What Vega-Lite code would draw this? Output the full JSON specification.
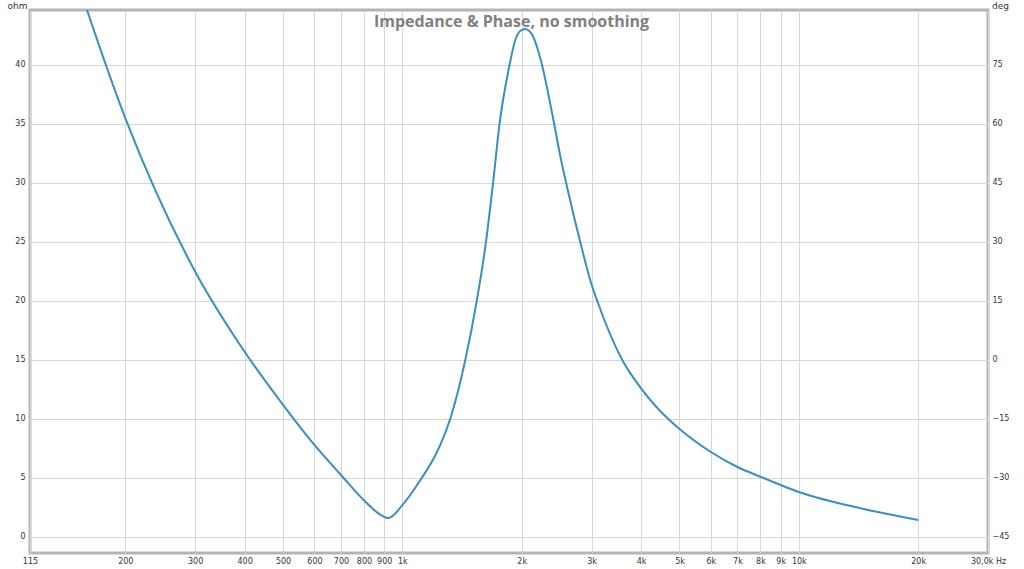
{
  "$schema": "https://vega.github.io/schema/vega-lite/v6.json",
  "autosize": {"type": "none"},
  "padding": {"left": 30, "top": 10, "right": 36, "bottom": 16},
  "width": 958,
  "height": 543,
  "background": "white",
  "config": {
    "view": {"stroke": "#b4b4b4", "strokeWidth": 3},
    "axis": {"labelFont": "DejaVu Sans", "labelFontSize": 8, "labelColor": "#333333", "titleFont": "DejaVu Sans", "titleFontSize": 9, "titleFontWeight": "normal", "titleColor": "#333333", "domain": false, "ticks": false, "gridColor": "#d6d6d6", "gridWidth": 1}
  },
  "layer": [
    {
      "data": {"values": [
        {"f": 150, "ohm": 47.5},
        {"f": 200, "ohm": 35.5},
        {"f": 300, "ohm": 22.5},
        {"f": 400, "ohm": 15.7},
        {"f": 500, "ohm": 11.2},
        {"f": 600, "ohm": 7.8},
        {"f": 700, "ohm": 5.25},
        {"f": 800, "ohm": 3.1},
        {"f": 879, "ohm": 1.9},
        {"f": 921, "ohm": 1.6},
        {"f": 1000, "ohm": 2.7},
        {"f": 1109, "ohm": 4.8},
        {"f": 1210, "ohm": 6.9},
        {"f": 1246, "ohm": 7.8},
        {"f": 1320, "ohm": 10.0},
        {"f": 1441, "ohm": 15.0},
        {"f": 1540, "ohm": 20.0},
        {"f": 1625, "ohm": 25.0},
        {"f": 1693, "ohm": 30.0},
        {"f": 1758, "ohm": 35.0},
        {"f": 1863, "ohm": 40.0},
        {"f": 1926, "ohm": 42.1},
        {"f": 1985, "ohm": 42.9},
        {"f": 2041, "ohm": 43.05},
        {"f": 2130, "ohm": 42.5},
        {"f": 2227, "ohm": 40.6},
        {"f": 2402, "ohm": 35.4},
        {"f": 2501, "ohm": 32.3},
        {"f": 2605, "ohm": 29.6},
        {"f": 2809, "ohm": 25.0},
        {"f": 3000, "ohm": 21.4},
        {"f": 3101, "ohm": 20.0},
        {"f": 3586, "ohm": 15.0},
        {"f": 4000, "ohm": 12.6},
        {"f": 4700, "ohm": 9.95},
        {"f": 5000, "ohm": 9.15},
        {"f": 6000, "ohm": 7.2},
        {"f": 7000, "ohm": 5.93},
        {"f": 8000, "ohm": 5.1},
        {"f": 9000, "ohm": 4.4},
        {"f": 10000, "ohm": 3.81},
        {"f": 13600, "ohm": 2.6},
        {"f": 16500, "ohm": 1.98},
        {"f": 20000, "ohm": 1.44}
      ]},
      "mark": {"type": "line", "interpolate": "monotone", "color": "#3a8fbd", "strokeWidth": 2, "clip": true},
      "encoding": {
        "x": {"field": "f", "type": "quantitative",
          "scale": {"type": "log", "domain": [115, 30000], "nice": false},
          "axis": {"orient": "bottom", "values": [115, 200, 300, 400, 500, 600, 700, 800, 900, 1000, 2000, 3000, 4000, 5000, 6000, 7000, 8000, 9000, 10000, 20000, 30000],
            "labelExpr": "datum.value >= 30000 ? '30,0k Hz' : datum.value >= 1000 ? (datum.value / 1000) + 'k' : datum.value",
            "labelPadding": 4, "labelFlush": false, "labelOverlap": false, "title": null}},
        "y": {"field": "ohm", "type": "quantitative",
          "scale": {"domain": [-1.36, 44.66], "nice": false, "zero": false},
          "axis": {"orient": "left", "values": [0, 5, 10, 15, 20, 25, 30, 35, 40], "labelPadding": 5,
            "title": "ohm", "titleAngle": 0, "titleX": -13, "titleY": -5, "titleAlign": "center", "titleBaseline": "middle"}}
      }
    },
    {
      "data": {"values": [{"deg": -45, "f": 1000}, {"deg": 75, "f": 1000}]},
      "mark": {"type": "rule", "opacity": 0},
      "encoding": {
        "x": {"field": "f", "type": "quantitative",
          "axis": {"orient": "top", "labels": false, "grid": false, "ticks": false, "domain": false,
            "title": "Impedance & Phase, no smoothing", "titleFont": "Open Sans", "titleFontSize": 16, "titleFontWeight": "bold", "titleColor": "#808080",
            "titleX": 481, "titleY": 11, "titleAngle": 0, "titleAlign": "center", "titleBaseline": "middle"}},
        "y": {"field": "deg", "type": "quantitative",
          "scale": {"domain": [-49.08, 88.98], "nice": false, "zero": false},
          "axis": {"orient": "right", "grid": false, "values": [-45, -30, -15, 0, 15, 30, 45, 60, 75], "labelPadding": 4,
            "title": "deg", "titleAngle": 0, "titleX": 12, "titleY": -5, "titleAlign": "center", "titleBaseline": "middle"}}
      }
    }
  ],
  "resolve": {"scale": {"y": "independent"}, "axis": {"x": "independent"}}
}
